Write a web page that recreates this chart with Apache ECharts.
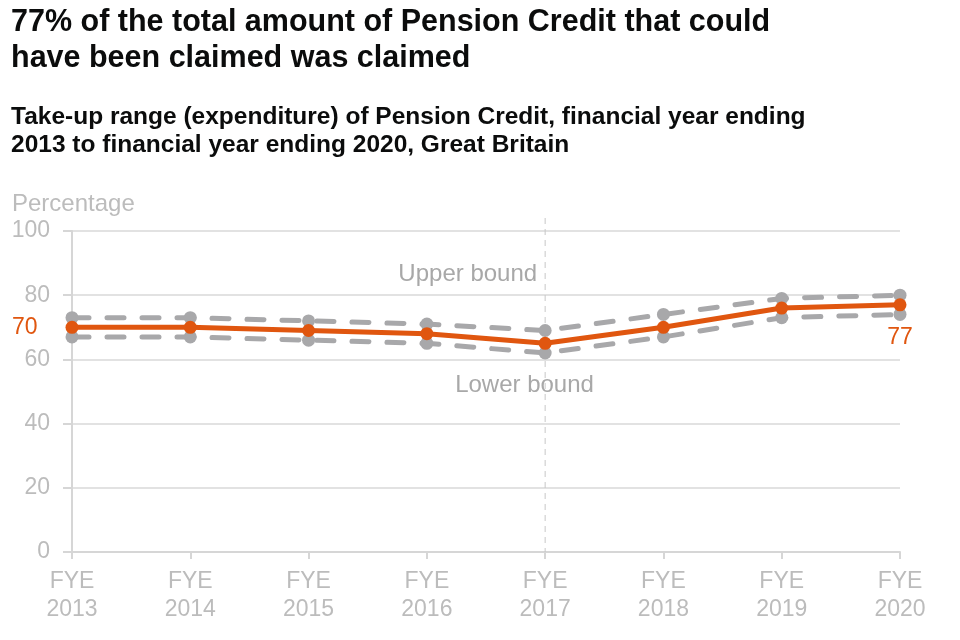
<!DOCTYPE html>
<html><head><meta charset="utf-8">
<script src="https://cdn.jsdelivr.net/npm/echarts@6/dist/echarts.min.js"></script>
<style>html,body{margin:0;padding:0;background:#fff}#c{width:960px;height:640px}</style>
</head><body><div id="c"></div>
<script>
const categories = ["FYE 2013","FYE 2014","FYE 2015","FYE 2016","FYE 2017","FYE 2018","FYE 2019","FYE 2020"];
const takeUp = [70,70,69,68,65,70,76,77];
const upperBound = [73,73,72,71,69,74,79,80];
const lowerBound = [67,67,66,65,62,67,73,74];
const yTicks = [0,20,40,60,80,100];

(function(){
const FONT = '"Liberation Sans", Arial, sans-serif';
const GREY_TXT = '#bcbcbc';
const GREY_LINE = '#a8a8aa';
const ORANGE = '#e0560f';

const chart = echarts.init(document.getElementById('c'));
const boundSeries = (name, data) => ({
  name, type: 'line', data, z: 2,
  symbol: 'circle', symbolSize: 13,
  itemStyle: {color: GREY_LINE},
  lineStyle: {color: GREY_LINE, width: 5, type: [17, 18], cap: 'round'},
  label: {show: false}
});
const takeUpData = takeUp.map((v, i) => {
  if (i === 0) return {value: v, label: {show: true, position: 'left', distance: 28}};
  if (i === takeUp.length-1) return {value: v, label: {show: true, position: 'bottom', distance: 15}};
  return v;
});
chart.setOption({
  animation: false,
  textStyle: {fontFamily: FONT},
  title: [
    {text: '77% of the total amount of Pension Credit that could\nhave been claimed was claimed', left: 11, top: 5, padding: 0,
     textStyle: {fontFamily: FONT, fontSize: 30.5, fontWeight: 'bold', color: '#0b0c0c', lineHeight: 36}},
    {text: 'Take-up range (expenditure) of Pension Credit, financial year ending\n2013 to financial year ending 2020, Great Britain', left: 11, top: 103, padding: 0,
     textStyle: {fontFamily: FONT, fontSize: 24.5, fontWeight: 'bold', color: '#0b0c0c', lineHeight: 28}}
  ],
  grid: {left: 72, right: 60, top: 231, bottom: 88, containLabel: false},
  xAxis: {
    type: 'category', data: categories, boundaryGap: false,
    axisLine: {lineStyle: {color: '#d6d6d6', width: 2}},
    axisTick: {show: true, length: 7, lineStyle: {color: '#d6d6d6', width: 2}},
    axisLabel: {color: GREY_TXT, fontSize: 23, lineHeight: 28, margin: 16, fontFamily: FONT,
      formatter: v => v.replace(' ', '\n')}
  },
  yAxis: {
    type: 'value', min: yTicks[0], max: yTicks[yTicks.length-1], interval: 20,
    name: 'Percentage', nameLocation: 'end', nameGap: 15,
    nameTextStyle: {color: GREY_TXT, fontSize: 24, align: 'left', padding: [0,0,0,-60], fontFamily: FONT},
    axisLine: {show: true, lineStyle: {color: '#d6d6d6', width: 2}},
    axisTick: {show: true, length: 9, lineStyle: {color: '#d6d6d6', width: 2}},
    splitLine: {lineStyle: {color: '#e2e2e2', width: 2}},
    axisLabel: {color: GREY_TXT, fontSize: 23, margin: 22, fontFamily: FONT}
  },
  series: [
    boundSeries('Upper bound', upperBound),
    boundSeries('Lower bound', lowerBound),
    {
      name: 'Take-up', type: 'line', data: takeUpData, z: 5,
      symbol: 'circle', symbolSize: 13,
      itemStyle: {color: ORANGE},
      lineStyle: {color: ORANGE, width: 5},
      label: {show: false, color: ORANGE, fontSize: 23, fontFamily: FONT}
    }
  ]
});

const yTop = chart.convertToPixel({yAxisIndex: 0}, 100);
const yBot = chart.convertToPixel({yAxisIndex: 0}, 0);
const x17 = chart.convertToPixel({xAxisIndex: 0}, categories[4]);
chart.setOption({graphic: [
  {type: 'line', z: 1, shape: {x1: x17, y1: yTop - 13, x2: x17, y2: yBot},
   style: {stroke: '#c8c8c8', lineWidth: 1, lineDash: [6, 5]}},
  {type: 'text', x: x17 - 8, y: chart.convertToPixel({yAxisIndex: 0}, 86.5),
   style: {text: 'Upper bound', fill: '#a8a8a8', font: '24px ' + FONT, align: 'right', verticalAlign: 'middle'}},
  {type: 'text', x: x17 - 90, y: chart.convertToPixel({yAxisIndex: 0}, 52),
   style: {text: 'Lower bound', fill: '#a8a8a8', font: '24px ' + FONT, align: 'left', verticalAlign: 'middle'}}
]});
})();
</script></body></html>
